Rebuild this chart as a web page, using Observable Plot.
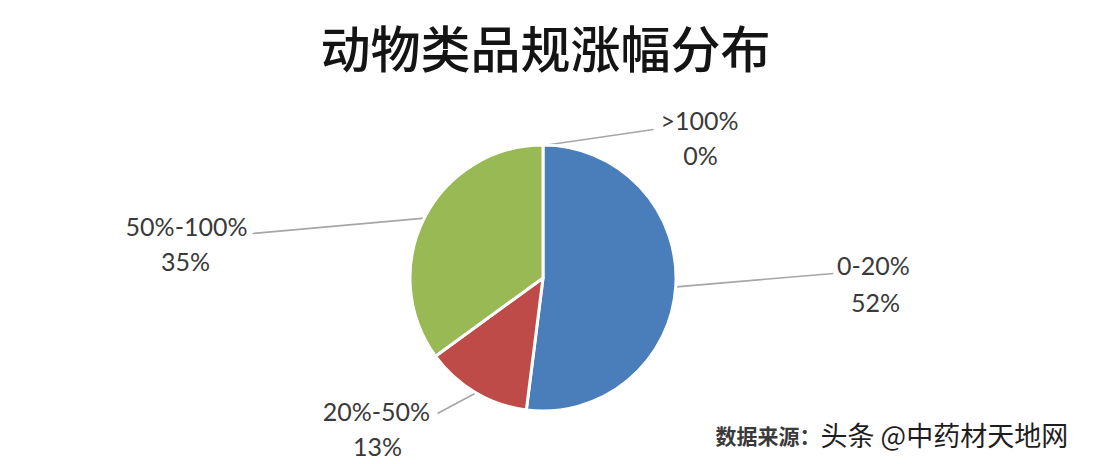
<!DOCTYPE html>
<html><head><meta charset="utf-8">
<script src="https://cdn.jsdelivr.net/npm/d3@7"></script>
<script src="https://cdn.jsdelivr.net/npm/@observablehq/plot@0.6"></script>
<style>body{margin:0;background:#fff} svg{display:block}</style>
</head><body><div id="chart"></div>
<script>
// ---- data ----
const categories = ["0-20%", "20%-50%", "50%-100%", ">100%"];
const shares = [52, 13, 35, 0];
const valueLabels = ["52%", "13%", "35%", "0%"];
const colors = ["#4A7EBB", "#BE4B48", "#98B954", "#F79646"];
const title = "动物类品规涨幅分布";
const sourceLabel = "数据来源：";
const watermark = "头条 @中药材天地网";

// ---- layout (pie radius = 1 unit) ----
const W = 1100, H = 464, CX = 543, CY = 278, R = 133;
const labelLayout = {
  "0-20%":    {end: [2.180, 0.038],  l1: [2.481, 0.083],  l2: [2.496, -0.188]},
  "20%-50%":  {end: [-0.797, -1.015], l1: [-1.256, -1.008], l2: [-1.248, -1.271]},
  "50%-100%": {end: [-2.188, 0.338], l1: [-2.684, 0.383],  l2: [-2.692, 0.120]},
  ">100%":    {end: [0.827, 1.120],  l1: [1.173, 1.173],  l2: [1.180, 0.910]}
};

const rows = categories.map((c, i) => ({category: c, share: shares[i], label: valueLabels[i]}));
const arcs = d3.pie().sort(null).value(d => d.share)(rows);
const color = Plot.scale({color: {type: "ordinal", domain: categories, range: colors}});

const leaders = arcs.map(a => {
  const m = (a.startAngle + a.endAngle) / 2;
  const L = labelLayout[a.data.category];
  return {x1: Math.sin(m), y1: Math.cos(m), x2: L.end[0], y2: L.end[1]};
});

function slices(index, scales) {
  const cx = scales.x(0), cy = scales.y(0), r = scales.x(1) - scales.x(0);
  const arc = d3.arc().innerRadius(0).outerRadius(r);
  const g = d3.create("svg:g").attr("transform", `translate(${cx},${cy})`);
  g.selectAll("path")
    .data(arcs.filter(a => a.value > 0))
    .join("path")
    .attr("d", arc)
    .attr("fill", d => color.apply(d.data.category))
    .attr("stroke", "#fff")
    .attr("stroke-width", 3)
    .attr("stroke-linejoin", "round");
  return g.node();
}

const labelFont = {fontFamily: "Lato, 'Open Sans', sans-serif", fontSize: 25, fill: "#3a3a3a"};

const chart = Plot.plot({
  width: W, height: H, margin: 0,
  style: {background: "#fff"},
  x: {domain: [-CX / R, (W - CX) / R], axis: null},
  y: {domain: [-(H - CY) / R, CY / R], axis: null},
  marks: [
    Plot.link(leaders, {x1: "x1", y1: "y1", x2: "x2", y2: "y2", stroke: "#a6a6a6", strokeWidth: 1.6}),
    slices,
    Plot.text(rows, {x: d => labelLayout[d.category].l1[0], y: d => labelLayout[d.category].l1[1], text: "category", ...labelFont}),
    Plot.text(rows, {x: d => labelLayout[d.category].l2[0], y: d => labelLayout[d.category].l2[1], text: "label", ...labelFont}),
    Plot.text([title], {x: 0.015, y: 1.70, text: d => d, fontSize: 50, fontWeight: 500, fontFamily: "'Noto Sans CJK SC', sans-serif", fill: "#141414"}),
    Plot.text([sourceLabel], {x: 1.293, y: -1.195, text: d => d, textAnchor: "start", fontSize: 21, fontWeight: "bold", fontFamily: "'Noto Sans CJK SC', sans-serif", fill: "#3a3a3a"}),
    Plot.text([watermark], {x: 2.083, y: -1.195, text: d => d, textAnchor: "start", fontSize: 27, fontFamily: "'Noto Sans CJK SC', sans-serif", fill: "#1e1e1e", stroke: "#fff", strokeWidth: 2, paintOrder: "stroke"})
  ]
});
document.getElementById("chart").append(chart);
</script>
</body></html>
